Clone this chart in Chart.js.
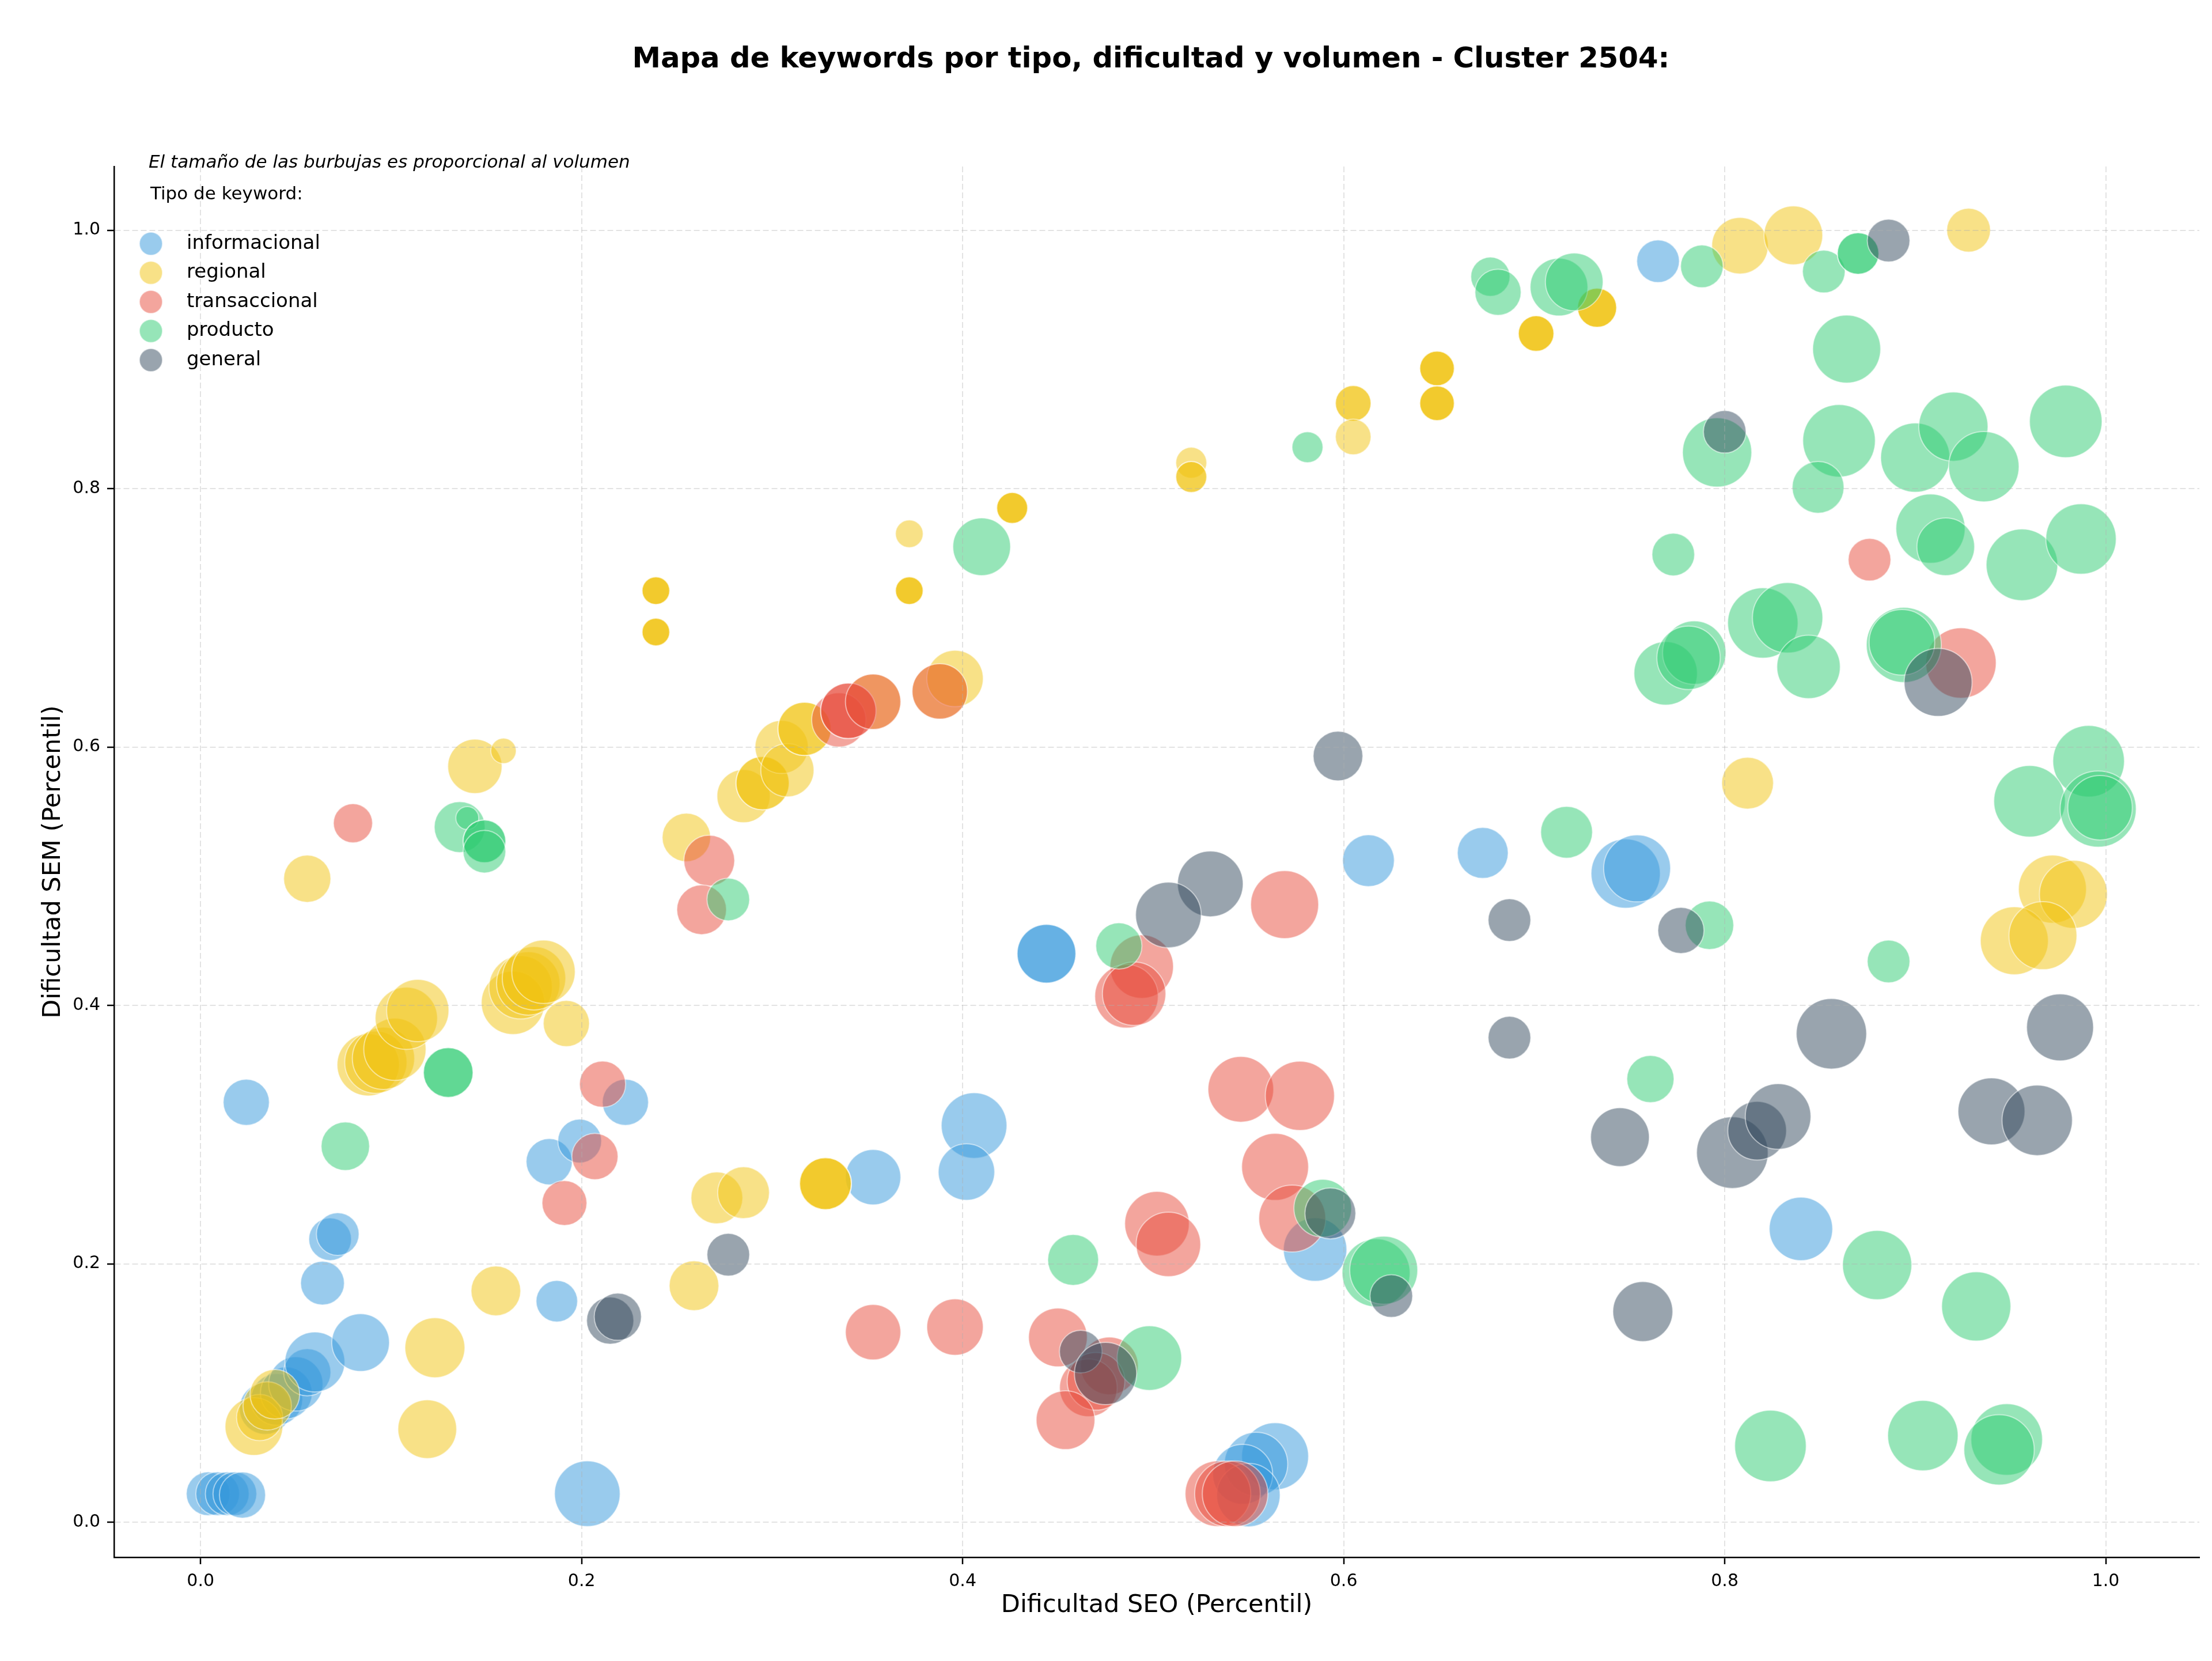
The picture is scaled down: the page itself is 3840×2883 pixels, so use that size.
<!DOCTYPE html>
<html>
<head>
<meta charset="utf-8">
<script src="https://cdn.jsdelivr.net/npm/chart.js@4.4.0/dist/chart.umd.min.js"></script>
<style>
html,body{margin:0;padding:0;background:#ffffff;}
canvas{display:block;}
</style>
</head>
<body>
<canvas id="c" width="3840" height="2883" style="width:3840px;height:2883px"></canvas>
<script>
// ---------------- DATA ----------------
const chartTitle = 'Mapa de keywords por tipo, dificultad y volumen - Cluster 2504:';
const noteText = 'El tamaño de las burbujas es proporcional al volumen';
const legendTitle = 'Tipo de keyword:';
const xLabel = 'Dificultad SEO (Percentil)';
const yLabel = 'Dificultad SEM (Percentil)';
const categories = ['informacional', 'regional', 'transaccional', 'producto', 'general'];
const tickValues = [0.0, 0.2, 0.4, 0.6, 0.8, 1.0];

// informacional
const infoSEO = [0.004,0.009,0.014,0.018,0.022,0.034,0.040,0.045,0.050,0.056,0.060,0.084,0.064,0.068,0.072,0.024,0.183,0.199,0.223,0.187,0.203,0.353,0.406,0.402,0.444,0.444,0.613,0.673,0.748,0.754,0.765,0.840,0.564,0.554,0.547,0.550,0.585];
const infoSEM = [0.022,0.022,0.022,0.022,0.021,0.088,0.095,0.100,0.107,0.116,0.124,0.139,0.185,0.219,0.223,0.325,0.279,0.295,0.325,0.171,0.022,0.267,0.307,0.271,0.440,0.440,0.512,0.518,0.502,0.506,0.976,0.227,0.051,0.045,0.037,0.021,0.211];
const infoVol = [4000,4000,4000,4000,4450,5600,5600,5600,6150,4650,7500,6950,4000,3800,3800,4450,4450,4000,4450,3600,9000,6400,9000,6650,7200,7200,5600,5400,10000,9350,3800,8400,9350,8400,7500,8400,8400];

// regional
const regSEO = [0.028,0.031,0.035,0.039,0.056,0.088,0.092,0.096,0.102,0.108,0.114,0.164,0.168,0.172,0.175,0.180,0.192,0.144,0.159,0.123,0.119,0.155,0.259,0.271,0.285,0.328,0.328,0.328,0.239,0.239,0.239,0.239,0.239,0.239,0.255,0.285,0.295,0.295,0.305,0.308,0.317,0.317,0.353,0.388,0.396,0.372,0.372,0.372,0.372,0.426,0.426,0.426,0.520,0.520,0.520,0.605,0.605,0.605,0.649,0.649,0.649,0.649,0.649,0.649,0.701,0.701,0.701,0.733,0.733,0.733,0.808,0.836,0.928,0.812,0.972,0.983,0.952,0.967];
const regSEM = [0.074,0.081,0.090,0.099,0.498,0.354,0.356,0.359,0.366,0.390,0.396,0.402,0.414,0.417,0.421,0.426,0.386,0.585,0.597,0.135,0.072,0.179,0.183,0.251,0.255,0.262,0.262,0.262,0.721,0.721,0.721,0.689,0.689,0.689,0.530,0.562,0.572,0.572,0.600,0.582,0.614,0.614,0.635,0.643,0.653,0.765,0.721,0.721,0.721,0.785,0.785,0.785,0.820,0.809,0.809,0.866,0.866,0.840,0.893,0.893,0.893,0.866,0.866,0.866,0.920,0.920,0.920,0.940,0.940,0.940,0.988,0.996,1.000,0.572,0.490,0.486,0.450,0.454];
const regVol = [6950,4450,4900,5150,4650,8100,8100,8100,8100,8100,8100,8400,8400,8400,8400,8400,4450,6150,1350,7500,7200,5150,5150,5600,5600,5600,5600,5600,1600,1600,1600,1600,1600,1600,4900,5900,5900,5900,5900,5900,5900,5900,6400,6400,6650,1600,1600,1600,1600,2000,2000,2000,2000,2000,2000,2650,2650,2650,2500,2500,2500,2500,2500,2500,2650,2650,2650,3200,3200,3200,6650,7200,4000,5600,9650,9650,9650,9650];

// transaccional
const traSEO = [0.080,0.211,0.207,0.191,0.267,0.263,0.335,0.340,0.340,0.353,0.388,0.876,0.924,0.569,0.494,0.486,0.490,0.546,0.577,0.564,0.573,0.502,0.508,0.353,0.396,0.450,0.477,0.466,0.470,0.454,0.534,0.539,0.543];
const traSEM = [0.541,0.339,0.283,0.247,0.512,0.474,0.621,0.628,0.628,0.635,0.643,0.745,0.665,0.478,0.430,0.407,0.409,0.335,0.330,0.275,0.235,0.231,0.215,0.147,0.151,0.143,0.121,0.104,0.109,0.079,0.022,0.022,0.022];
const traVol = [3200,4450,4450,4200,5400,5150,6150,6400,6400,6400,6400,3800,10350,9650,8400,8400,8400,9000,10000,9350,9350,8700,8700,6400,6650,7200,6950,6950,6950,7200,9000,9000,9000];

// producto
const proSEO = [0.076,0.130,0.130,0.136,0.140,0.149,0.149,0.149,0.277,0.410,0.482,0.458,0.498,0.589,0.617,0.621,0.581,0.677,0.681,0.713,0.721,0.788,0.852,0.870,0.870,0.864,0.796,0.860,0.849,0.900,0.920,0.936,0.979,0.908,0.916,0.956,0.987,0.773,0.769,0.784,0.781,0.820,0.833,0.844,0.894,0.893,0.991,0.960,0.996,0.997,0.886,0.792,0.717,0.761,0.880,0.932,0.824,0.904,0.948,0.944];
const proSEM = [0.291,0.348,0.348,0.538,0.545,0.527,0.527,0.519,0.482,0.755,0.446,0.203,0.127,0.243,0.193,0.195,0.832,0.964,0.952,0.956,0.960,0.972,0.968,0.982,0.982,0.908,0.828,0.837,0.801,0.824,0.848,0.817,0.852,0.769,0.755,0.741,0.761,0.749,0.657,0.673,0.669,0.696,0.700,0.662,0.679,0.681,0.589,0.558,0.552,0.553,0.434,0.462,0.534,0.343,0.199,0.167,0.059,0.067,0.064,0.056];
const proVol = [4900,5150,5150,5400,1100,3800,3800,3800,3800,6950,4450,5400,8700,6950,9650,9650,2000,3200,4450,6950,6950,3800,3800,3600,3600,9650,10000,11000,5600,10000,10000,10350,11000,10000,6950,10700,10350,3800,8400,8400,8400,10350,10350,8400,11750,9000,10700,10700,12100,8700,3800,4900,5600,4650,10000,10000,10700,10350,10700,10350];

// general
const genSEO = [0.886,0.800,0.912,0.597,0.530,0.508,0.687,0.777,0.687,0.856,0.976,0.745,0.804,0.817,0.828,0.940,0.964,0.757,0.593,0.625,0.462,0.475,0.277,0.215,0.219];
const genSEM = [0.992,0.844,0.650,0.593,0.494,0.470,0.466,0.458,0.375,0.378,0.383,0.298,0.286,0.303,0.314,0.318,0.311,0.163,0.239,0.175,0.132,0.115,0.207,0.156,0.159];
const genVol = [3800,3800,9650,5150,9000,9000,3800,4450,3800,10350,9350,7200,10700,7200,9000,9350,10350,7500,5400,3800,3800,8100,3800,4650,4650];

// ---------------- STYLE ----------------
const FONT = 'DejaVu Sans';
const BUBBLE_K = 0.6; // radius (px) per sqrt(volume)
const colors = {
  informacional: [52,152,219],
  regional: [241,196,15],
  transaccional: [231,76,60],
  producto: [46,204,113],
  general: [52,73,94]
};
const ALPHA = 0.5;
const rgba = (c, a) => `rgba(${c[0]},${c[1]},${c[2]},${a})`;

function toPoints(xs, ys, vs) {
  return xs.map((x, i) => ({ x: x, y: ys[i], r: Math.sqrt(vs[i]) * BUBBLE_K }));
}

const series = [
  ['informacional', infoSEO, infoSEM, infoVol],
  ['regional', regSEO, regSEM, regVol],
  ['transaccional', traSEO, traSEM, traVol],
  ['producto', proSEO, proSEM, proVol],
  ['general', genSEO, genSEM, genVol]
];

const datasets = series.map((s, idx) => ({
  label: s[0],
  data: toPoints(s[1], s[2], s[3]),
  backgroundColor: rgba(colors[s[0]], ALPHA),
  borderColor: 'rgba(255,255,255,0.5)',
  borderWidth: 2,
  hoverRadius: 0,
  clip: 0,
  order: series.length - idx
}));

const AREA = { left: 198, right: 3818, top: 289, bottom: 2703 };
const XMIN = -0.0454, XMAX = 1.0491;
const YMIN = -0.0272, YMAX = 1.0493;

const overlay = {
  id: 'overlay',
  afterDraw(chart) {
    const ctx = chart.ctx;
    ctx.save();
    ctx.fillStyle = '#000';
    // title
    ctx.font = `bold 49.7px "${FONT}"`;
    ctx.textAlign = 'center';
    ctx.textBaseline = 'alphabetic';
    ctx.fillText(chartTitle, 1998, 117);
    // note
    ctx.font = `italic 31px "${FONT}"`;
    ctx.textAlign = 'left';
    ctx.fillText(noteText, 258, 291);
    // legend title
    ctx.font = `31px "${FONT}"`;
    ctx.fillText(legendTitle, 261, 346);
    // legend entries
    ctx.font = `34px "${FONT}"`;
    categories.forEach((cat, i) => {
      const cy = 423 + i * 50.5;
      ctx.beginPath();
      ctx.arc(262, cy, 20, 0, Math.PI * 2);
      ctx.fillStyle = rgba(colors[cat], ALPHA);
      ctx.fill();
      ctx.lineWidth = 2;
      ctx.strokeStyle = 'rgba(255,255,255,0.5)';
      ctx.stroke();
      ctx.fillStyle = '#000';
      ctx.textBaseline = 'middle';
      ctx.fillText(cat, 324, cy);
    });
    ctx.restore();
  }
};

const axisCommon = {
  type: 'linear',
  ticks: {
    stepSize: 0.2,
    includeBounds: false,
    color: '#000',
    font: { family: FONT, size: 30 },
    padding: 12,
    callback: (v) => (Math.round(v * 10) / 10).toFixed(1)
  },
  grid: {
    color: 'rgba(176,176,176,0.35)',
    lineWidth: 2,
    z: 1,
    tickColor: '#000',
    tickLength: 12,
    tickWidth: 2.5,
    tickBorderDash: []
  },
  border: { display: true, color: '#000', width: 2.5, dash: [10, 5], z: 2 }
};

new Chart(document.getElementById('c').getContext('2d'), {
  type: 'bubble',
  data: { datasets: datasets },
  options: {
    responsive: false,
    maintainAspectRatio: false,
    animation: false,
    devicePixelRatio: 1,
    events: [],
    layout: { autoPadding: false, padding: { left: 0, right: 3840 - AREA.right, top: AREA.top, bottom: 0 } },
    plugins: { legend: { display: false }, tooltip: { enabled: false }, title: { display: false } },
    scales: {
      x: Object.assign({}, axisCommon, {
        position: 'bottom',
        min: XMIN, max: XMAX,
        afterFit: (s) => { s.height = 2883 - AREA.bottom; s.paddingLeft = 0; s.paddingRight = 0; },
        title: { display: true, text: xLabel, color: '#000', font: { family: FONT, size: 43 }, padding: { top: 0, bottom: 70 } }
      }),
      y: Object.assign({}, axisCommon, {
        position: 'left',
        min: YMIN, max: YMAX,
        afterFit: (s) => { s.width = AREA.left; s.paddingTop = 0; s.paddingBottom = 0; },
        title: { display: true, text: yLabel, color: '#000', font: { family: FONT, size: 43 }, padding: { top: 67, bottom: 0 } }
      })
    }
  },
  plugins: [overlay]
});
</script>
</body>
</html>
